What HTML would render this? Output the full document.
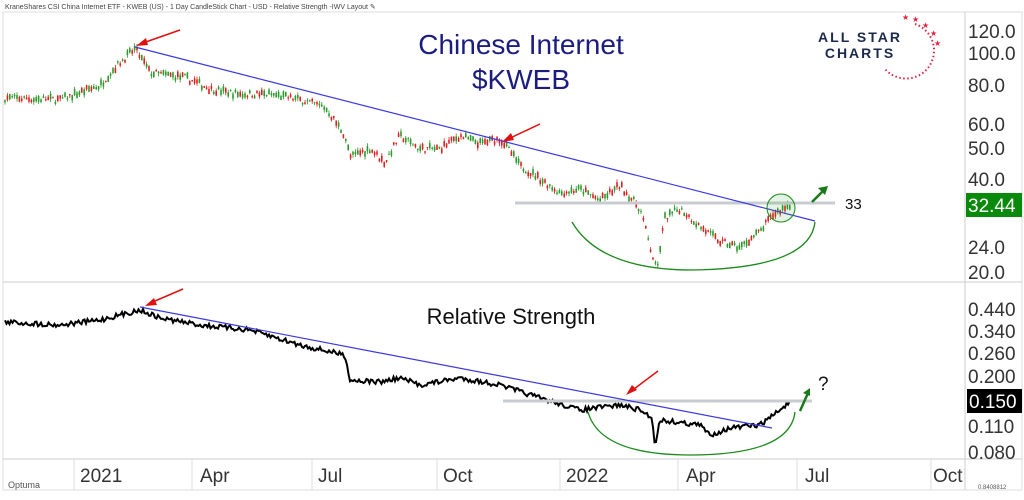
<!DOCTYPE html><html><head><style>body{margin:0;background:#fff;width:1024px;height:495px;overflow:hidden;font-family:"Liberation Sans",sans-serif}</style></head><body>
<svg id="s" width="1024" height="495" xmlns="http://www.w3.org/2000/svg" font-family="Liberation Sans, sans-serif">
<rect width="1024" height="495" fill="#fff"/>
<text x="5" y="9" font-size="7" fill="#444">KraneShares CSI China Internet ETF - KWEB (US) - 1 Day CandleStick Chart - USD - Relative Strength -IWV Layout ✎</text>
<rect x="3" y="12" width="1019" height="478" fill="none" stroke="#ddd"/>
<line x1="965" y1="12" x2="965" y2="490" stroke="#ccc"/>
<line x1="3" y1="282" x2="1022" y2="282" stroke="#ccc"/>
<line x1="3" y1="459" x2="1022" y2="459" stroke="#ccc"/>
<g id="cand"></g><g id="rs"></g>
<g font-size="19" fill="#333">
<text x="968" y="38">120.0</text><text x="968" y="60">100.0</text><text x="968" y="92">80.0</text><text x="968" y="131">60.0</text><text x="968" y="155">50.0</text><text x="968" y="186">40.0</text><text x="968" y="217">30.0</text><text x="968" y="254">24.0</text><text x="968" y="279">20.0</text>
<text x="968" y="316">0.440</text><text x="968" y="338">0.340</text><text x="968" y="360">0.260</text><text x="968" y="383">0.200</text><text x="968" y="433">0.110</text><text x="968" y="459">0.080</text>
</g>
<rect x="966" y="193" width="56" height="24" fill="#0a8a0a"/><text x="968" y="212" font-size="19" fill="#fff">32.44</text>
<rect x="967" y="389" width="55" height="24" fill="#000"/><text x="969" y="408" font-size="19" fill="#fff">0.150</text>
<g font-size="19" fill="#333"><text x="80" y="482">2021</text><text x="200" y="482">Apr</text><text x="318" y="482">Jul</text><text x="443" y="482">Oct</text><text x="566" y="482">2022</text><text x="686" y="482">Apr</text><text x="805" y="482">Jul</text><text x="933" y="482">Oct</text></g>
<g stroke="#ddd"><line x1="74" y1="459" x2="74" y2="490"/><line x1="192" y1="459" x2="192" y2="490"/><line x1="312" y1="459" x2="312" y2="490"/><line x1="437" y1="459" x2="437" y2="490"/><line x1="560" y1="459" x2="560" y2="490"/><line x1="678" y1="459" x2="678" y2="490"/><line x1="797" y1="459" x2="797" y2="490"/><line x1="931" y1="459" x2="931" y2="490"/></g>
<text x="8" y="488" font-size="9" fill="#555">Optuma</text>
<text x="978" y="489" font-size="6" fill="#555">0.8408812</text>
<text x="521" y="54" font-size="28" fill="#1c1c80" text-anchor="middle">Chinese Internet</text>
<text x="521" y="89" font-size="28" fill="#1c1c80" text-anchor="middle">$KWEB</text>
<text x="511" y="324" font-size="22" fill="#111" text-anchor="middle">Relative Strength</text>
<text x="860" y="42" font-size="14" font-weight="bold" fill="#1b2a4a" text-anchor="middle" letter-spacing="2">ALL STAR</text>
<text x="860" y="58" font-size="14" font-weight="bold" fill="#1b2a4a" text-anchor="middle" letter-spacing="2">CHARTS</text>
<path d="M915 24 A28 28 0 1 1 885 69" fill="none" stroke="#e02040" stroke-width="2" stroke-dasharray="1.5 2.5"/>
<g fill="#e02040" font-size="8"><text x="912" y="22">★</text><text x="922" y="28">★</text><text x="930" y="36">★</text><text x="934" y="46">★</text><text x="902" y="20">★</text></g>
<text x="845" y="209" font-size="15" fill="#111">33</text>
<text x="818" y="390" font-size="19" fill="#111">?</text>
<g fill="none">
<line x1="515" y1="203" x2="835" y2="203" stroke="#c8ccd0" stroke-width="3"/>
<line x1="503" y1="401" x2="812" y2="401" stroke="#c8ccd0" stroke-width="3"/>
<line x1="135" y1="47" x2="815" y2="221" stroke="#3a3ae0" stroke-width="1.2"/>
<line x1="140" y1="307" x2="772" y2="428" stroke="#3a3ae0" stroke-width="1.2"/>
<path d="M572 222 Q 600 270 693 270 Q 810 268 815 222" stroke="#1a8a1a" stroke-width="1.3"/>
<path d="M588 412 Q 600 455 690 455 Q 790 455 795 412" stroke="#1a8a1a" stroke-width="1.3"/>
<circle cx="781" cy="208" r="14" stroke="#1a8a1a" fill="rgba(30,160,30,0.12)"/>
<g stroke="#e01010" stroke-width="1.5"><line x1="180" y1="30" x2="140" y2="44"/><line x1="540" y1="124" x2="506" y2="140"/><line x1="183" y1="289" x2="148" y2="304"/><line x1="658" y1="371" x2="630" y2="392"/></g>
<g stroke="#1a7a1a" stroke-width="2.5"><line x1="812" y1="202" x2="824" y2="190"/><line x1="800" y1="411" x2="808" y2="393"/></g>
</g>
<g fill="#e01010"><path d="M136 46 l10 -8 l2 7z"/><path d="M502 142 l9 -9 l3 7z"/><path d="M145 306 l9 -8 l3 7z"/><path d="M626 395 l6 -10 l5 5z"/></g>
<g fill="#1a7a1a"><path d="M828 186 l-10 2 l7 7z"/><path d="M810 388 l-7 5 l7 3z"/></g>
</svg>
<script>
var ns="http://www.w3.org/2000/svg";
var seed=7;function r(){seed=(seed*16807)%2147483647;return seed/2147483647;}
function interp(k,x){for(var i=0;i<k.length-1;i++){if(x>=k[i][0]&&x<=k[i+1][0]){var t=(x-k[i][0])/(k[i+1][0]-k[i][0]);return k[i][1]+t*(k[i+1][1]-k[i][1]);}}return k[k.length-1][1];}
var P=[[5,73],[60,72],[100,80],[120,95],[135,105],[150,88],[185,85],[210,78],[240,75],[270,75],[300,72],[325,68],[345,55],[350,47],[370,50],[385,45],[400,55],[420,50],[440,50],[460,55],[480,52],[500,54],[520,44],[540,40],[560,36],[580,37],[600,34],[620,38],[640,32],[650,24],[657,20],[665,30],[680,32],[700,28],[720,25],[740,24],[760,27],[775,31],[790,33]];
function py(p){return 674.9-134.5*Math.log(p);}
var g=document.getElementById("cand"),h="";
for(var x=5;x<=792;x+=2.4){var p=interp(P,x)*(1+(r()-0.5)*0.05);var y=py(p);var up=r()>0.5;var b=1+r()*5;var c=up?"#2a9a2a":"#e02020";
h+='<line x1="'+x+'" y1="'+(y-b/2-r()*3)+'" x2="'+x+'" y2="'+(y+b/2+r()*3)+'" stroke="'+c+'" stroke-width="0.8"/><rect x="'+(x-0.8)+'" y="'+(y-b/2)+'" width="1.6" height="'+b+'" fill="'+c+'"/>';}
g.innerHTML=h;
var R=[[5,322],[60,325],[100,320],[140,310],[160,318],[200,325],[250,330],[300,345],[345,355],[350,380],[380,382],[400,378],[420,385],[460,378],[500,385],[540,398],[580,410],[620,405],[640,410],[652,418],[655,445],[660,420],[700,425],[710,435],[730,428],[760,425],[790,402]];
var d="";for(var x=5;x<=790;x+=1.5){var y=interp(R,x)+(r()-0.5)*5;d+=(x==5?"M":"L")+x+" "+y.toFixed(1);}
document.getElementById("rs").innerHTML='<path d="'+d+'" fill="none" stroke="#000" stroke-width="2"/>';
</script>
</body></html>
